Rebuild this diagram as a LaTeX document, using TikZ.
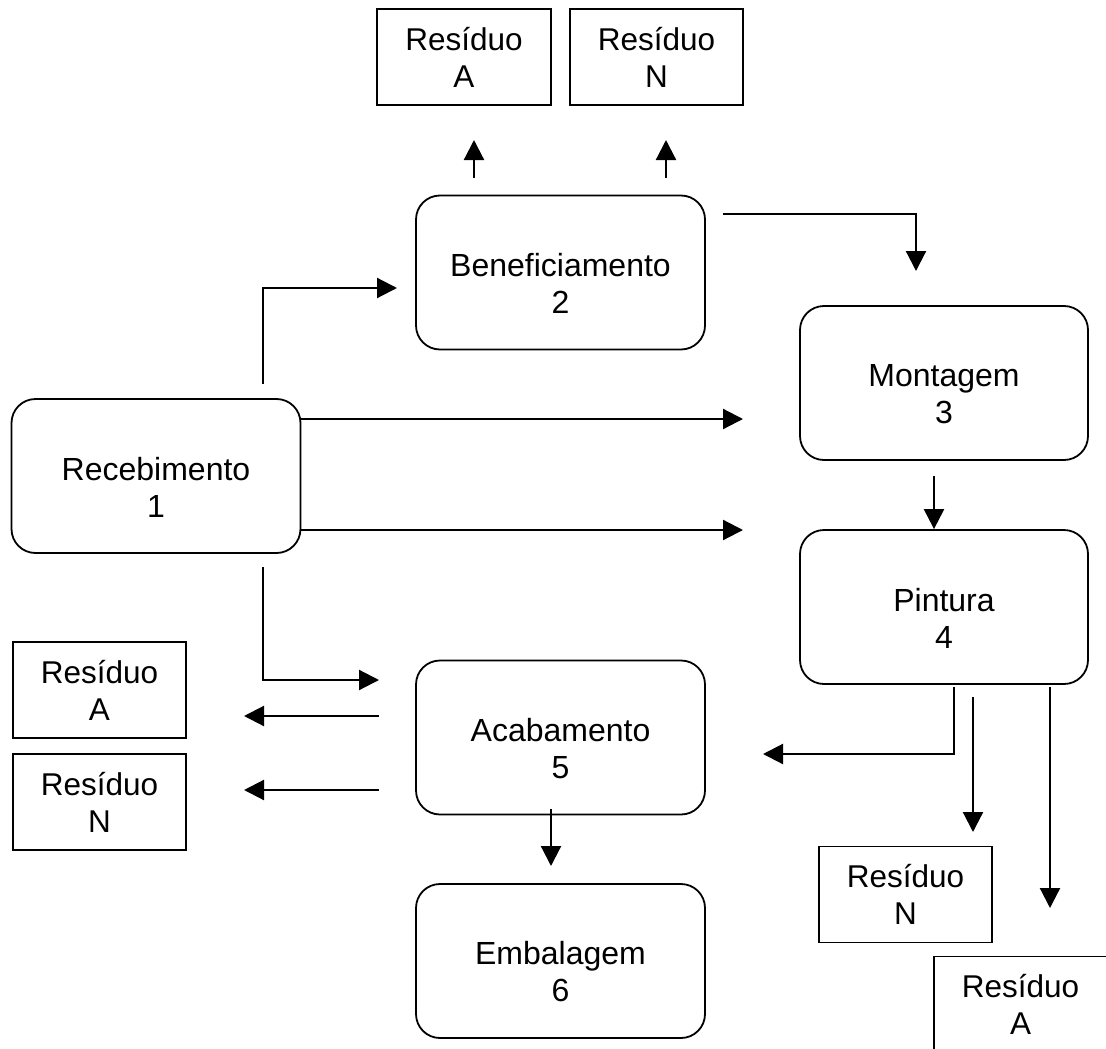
\documentclass[tikz,border=0pt]{standalone}
\usepackage{fontspec}
\setmainfont{Liberation Sans}
\usetikzlibrary{arrows.meta,calc}
\begin{document}
\begin{tikzpicture}[x=1pt,y=-1pt,
  every node/.style={font=\fontsize{31.5}{37}\selectfont, align=center, inner sep=0pt},
  stage/.style={draw, line width=1.8pt, rounded corners=24pt, minimum width=#1, minimum height=154pt},
  stage/.default=289pt,
  stagetext/.style={yshift=-11pt, font=\fontsize{32}{37}\selectfont},
  waste/.style={draw, line width=1.6pt, minimum width=173pt, minimum height=96pt},
  flow/.style={line width=2.2pt, -{Triangle[length=20pt,width=20pt]}},
]
\useasboundingbox (0,0) rectangle (1106,1049);

% process stages (the caption sits a little below the box centre)
\node[stage, label={[stagetext]center:{Recebimento\\1}}] (rec) at (156,476) {};
\node[stage, label={[stagetext]center:{Beneficiamento\\2}}] (ben) at (560.5,272.5) {};
\node[stage=288pt, label={[stagetext]center:{Montagem\\3}}] (mon) at (944,383) {};
\node[stage=288pt, label={[stagetext]center:{Pintura\\4}}] (pin) at (944,607) {};
\node[stage, label={[stagetext]center:{Acabamento\\5}}] (aca) at (560.5,737.5) {};
\node[stage, label={[stagetext]center:{Embalagem\\6}}] (emb) at (560.5,961) {};

% waste bins
\node[waste, minimum width=174pt] (wa1) at (464,57) {Resíduo\\A};
\node[waste] (wn1) at (656.5,57) {Resíduo\\N};
\node[waste] (wa2) at (99.5,690) {Resíduo\\A};
\node[waste] (wn2) at (99.5,802) {Resíduo\\N};
\node[waste] (wn3) at (905.5,894.5) {Resíduo\\N};
\node[waste] (wa3) at (1020.5,1004.5) {Resíduo\\A};

% free ends of the connectors
\coordinate (b1) at (474,178);  \coordinate (b1t) at (474,140);
\coordinate (b2) at (666,178);  \coordinate (b2t) at (666,140);
\coordinate (b3) at (723,214);  \coordinate (b3t) at (916,271);
\coordinate (r0) at (263,384);  \coordinate (r0t) at (397,288);
\coordinate (r1t) at (743,419);
\coordinate (r2t) at (743,530);
\coordinate (m0) at (934,476);
\coordinate (r3) at (263,567);  \coordinate (r3t) at (379,680);
\coordinate (a1) at (379,716);  \coordinate (a1t) at (244,716);
\coordinate (a2) at (379,790);  \coordinate (a2t) at (244,790);
\coordinate (a3) at (551,809);  \coordinate (a3t) at (551,866);
\coordinate (p1) at (954,687);  \coordinate (p1t) at (763,754);
\coordinate (p2) at (973,697);  \coordinate (p2t) at (973,832);
\coordinate (p3) at (1050,687); \coordinate (p3t) at (1050,908);

% connectors
\draw[flow] (b1) -- (b1t);
\draw[flow] (b2) -- (b2t);
\draw[flow] (b3) -| (b3t);
\draw[flow] (r0) |- (r0t);
\draw[flow] (rec.east |- r1t) -- (r1t);
\draw[flow] (rec.east |- r2t) -- (r2t);
\draw[flow] (m0) -- (m0 |- pin.north);
\draw[flow] (r3) |- (r3t);
\draw[flow] (a1) -- (a1t);
\draw[flow] (a2) -- (a2t);
\draw[flow] (a3) -- (a3t);
\draw[flow] (p1) |- (p1t);
\draw[flow] (p2) -- (p2t);
\draw[flow] (p3) -- (p3t);
\end{tikzpicture}
\end{document}
